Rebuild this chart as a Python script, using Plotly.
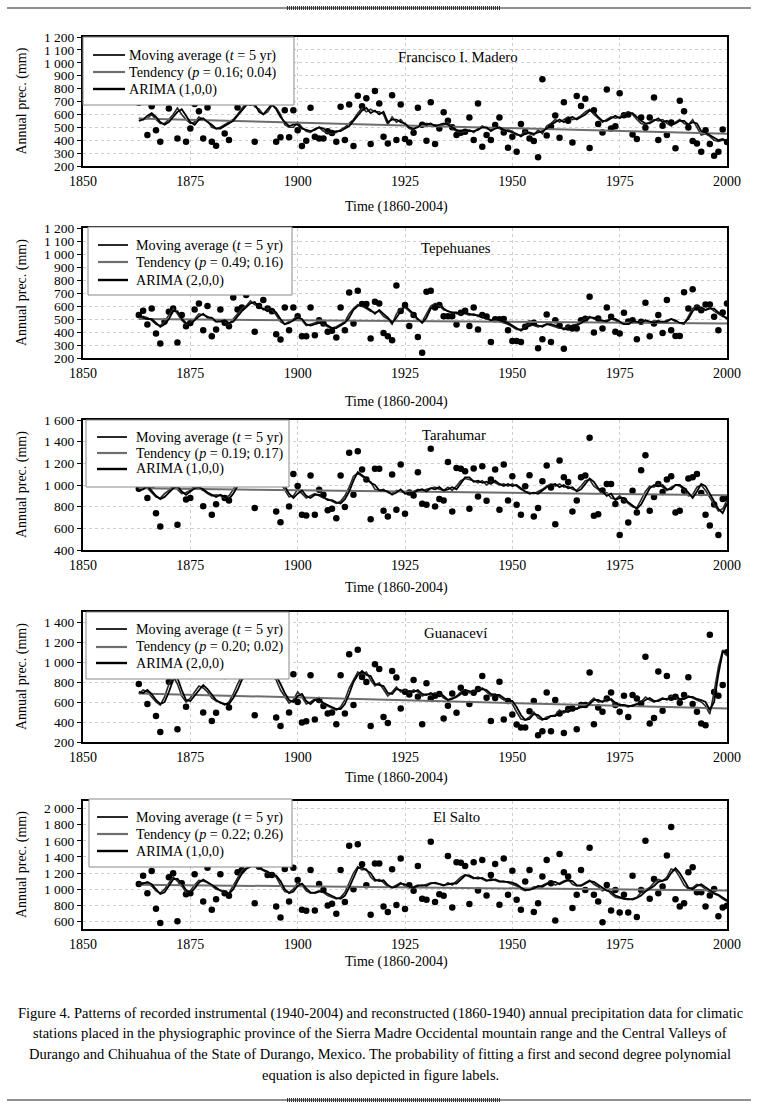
import plotly.graph_objects as go

W, H = 759, 1120
years = list(range(1863, 2001))

stations = ["Francisco I. Madero", "Tepehuanes", "Tarahumar", "Guanaceví", "El Salto"]
tendency_p = ["0.16; 0.04", "0.49; 0.16", "0.19; 0.17", "0.20; 0.02", "0.22; 0.26"]
arima_order = ["(1,0,0)", "(2,0,0)", "(1,0,0)", "(2,0,0)", "(1,0,0)"]

# ---------------- Francisco I. Madero ----------------
madero_obs = [
    690, 700, 440, 664, 478, 388, 720,
    646, 730, 414, 700, 388, 491, 680, 625, 414, 653,
    388, 357, 720, 452, 401, 760, 653, 760, 720, 690,
    388, 720, 700, 740, 780, 388, 422, 633, 422, 633,
    478, 355, 396, 651, 427, 414, 414, 470, 455, 388,
    659, 401, 677, 355, 744, 664, 726, 370, 782, 685,
    427, 375, 749, 401, 677, 409, 383, 458, 651, 520,
    396, 695, 370, 491, 617, 550, 500, 440, 458, 465,
    576, 401, 685, 349, 440, 401, 517, 576, 460, 342,
    427, 311, 525, 465, 414, 393, 267, 873, 437, 504,
    592, 419, 695, 550, 383, 742, 666, 721, 339, 633,
    525, 460, 793, 491, 509, 764, 594, 599, 445, 409,
    576, 496, 576, 731, 401, 512, 440, 538, 337, 705,
    625, 499, 393, 375, 311, 478, 370, 280, 311, 483,
    386]
madero_ma = [
    570, 560, 570, 600, 560, 530, 530,
    560, 600, 650, 600, 560, 530, 540, 580, 560, 550,
    500, 490, 500, 520, 540, 560, 600, 650, 690, 700,
    660, 640, 600, 620, 670, 650, 600, 520, 500, 500,
    540, 500, 470, 460, 490, 500, 470, 460, 450, 460,
    480, 500, 530, 560, 610, 650, 620, 640, 620, 620,
    600, 520, 580, 540, 560, 520, 490, 480, 510, 520,
    530, 520, 520, 510, 520, 540, 490, 470, 460, 470,
    480, 460, 490, 510, 490, 480, 500, 490, 470, 480,
    470, 440, 440, 470, 450, 440, 480, 450, 510, 530,
    560, 540, 560, 580, 560, 570, 590, 620, 640, 600,
    570, 540, 560, 580, 570, 580, 600, 620, 600, 560,
    530, 520, 540, 560, 550, 560, 530, 510, 540, 560,
    530, 520, 560, 500, 440, 450, 430, 400, 390, 400,
    400]
madero_arima = [
    550, 560, 590, 610, 580, 540, 520,
    540, 580, 620, 640, 590, 540, 520, 560, 570, 540,
    520, 490, 490, 510, 530, 550, 590, 630, 670, 690,
    680, 620, 600, 640, 680, 640, 580, 540, 510, 520,
    520, 490, 480, 470, 480, 500, 490, 470, 460, 470,
    470, 490, 510, 550, 590, 630, 650, 610, 630, 600,
    620, 540, 560, 560, 540, 530, 500, 490, 500, 530,
    520, 530, 510, 520, 530, 520, 500, 480, 470, 480,
    470, 470, 480, 500, 500, 470, 490, 500, 480, 470,
    460, 450, 430, 450, 460, 450, 460, 470, 490, 520,
    540, 560, 540, 570, 580, 560, 580, 600, 630, 620,
    580, 550, 550, 570, 590, 570, 590, 610, 610, 580,
    550, 530, 530, 550, 570, 540, 550, 520, 530, 550,
    550, 520, 540, 530, 470, 460, 440, 420, 400, 410,
    390]
madero_trend = [568, 450]

# ---------------- Tepehuanes ----------------
tepe_obs = [
    530, 563, 458, 581, 388, 311, 480,
    556, 581, 319, 530, 445, 470, 574, 620, 414, 600,
    368, 419, 574, 471, 445, 666, 574, 589, 684, 720,
    401, 600, 646, 581, 560, 383, 342, 589, 414, 589,
    522, 368, 368, 589, 375, 491, 465, 401, 409, 357,
    589, 414, 703, 465, 718, 615, 615, 350, 633, 620,
    393, 368, 337, 757, 561, 607, 447, 530, 362, 241,
    710, 718, 589, 607, 522, 522, 522, 458, 548, 563,
    447, 589, 419, 530, 520, 324, 499, 499, 500, 414,
    331, 331, 324, 440, 465, 471, 275, 344, 535, 324,
    491, 450, 272, 435, 427, 427, 491, 502, 672, 396,
    504, 427, 589, 517, 401, 388, 548, 480, 491, 344,
    478, 625, 368, 465, 530, 393, 646, 414, 370, 370,
    705, 581, 728, 589, 568, 612, 612, 517, 414, 550,
    620]
tepe_ma = [
    510, 520, 510, 490, 460, 450, 480,
    530, 580, 540, 490, 460, 470, 500, 540, 530, 520,
    500, 480, 490, 480, 460, 500, 540, 580, 600, 640,
    610, 600, 570, 580, 570, 530, 480, 460, 480, 500,
    520, 490, 450, 460, 470, 480, 460, 440, 430, 440,
    460, 480, 540, 580, 610, 600, 580, 560, 550, 560,
    520, 500, 460, 540, 580, 590, 560, 530, 490, 480,
    540, 600, 620, 600, 570, 560, 550, 540, 540, 540,
    530, 540, 520, 520, 500, 490, 490, 480, 470, 460,
    440, 420, 420, 440, 460, 450, 440, 450, 460, 450,
    440, 430, 430, 440, 450, 460, 480, 500, 520, 500,
    500, 480, 490, 500, 490, 470, 460, 470, 480, 470,
    480, 490, 470, 480, 490, 470, 490, 500, 480, 470,
    460, 520, 580, 600, 580, 570, 590, 560, 540, 520,
    510]
tepe_arima = [
    530, 510, 500, 500, 470, 440, 460,
    500, 560, 560, 500, 470, 460, 490, 520, 540, 510,
    510, 480, 480, 490, 470, 480, 520, 560, 590, 620,
    630, 590, 580, 560, 580, 550, 500, 460, 470, 490,
    510, 500, 460, 450, 460, 470, 470, 450, 430, 430,
    450, 470, 510, 570, 600, 610, 590, 570, 540, 570,
    540, 510, 470, 510, 560, 600, 570, 540, 500, 470,
    510, 580, 610, 620, 580, 560, 550, 550, 530, 550,
    540, 530, 530, 510, 510, 490, 500, 490, 480, 470,
    450, 430, 410, 430, 450, 460, 450, 440, 460, 460,
    450, 440, 420, 430, 450, 450, 470, 490, 510, 510,
    490, 490, 480, 500, 500, 480, 460, 460, 480, 480,
    470, 490, 480, 470, 480, 480, 480, 500, 490, 470,
    470, 500, 560, 590, 590, 570, 580, 580, 550, 530,
    500]
tepe_trend = [500, 465]

# ---------------- Tarahumar ----------------
tara_obs = [
    966, 1050, 879, 990, 740, 617, 1100,
    1040, 1150, 632, 1050, 867, 879, 1040, 1120, 805, 1080,
    725, 823, 1050, 879, 858, 1100, 1150, 1200, 1050, 1150,
    787, 1250, 1100, 1180, 1050, 756, 657, 1120, 802, 1102,
    991, 725, 719, 1087, 725, 957, 910, 768, 780, 694,
    1087, 796, 1297, 910, 1312, 1142, 1050, 685, 1151, 1151,
    762, 709, 1096, 771, 1189, 734, 930, 904, 1118, 827,
    818, 1334, 802, 870, 858, 1213, 756, 1158, 1149, 1127,
    780, 1152, 895, 1173, 855, 1050, 1142, 771, 1189, 858,
    1080, 818, 725, 988, 1090, 709, 787, 1034, 1180, 978,
    638, 1226, 1071, 1028, 756, 858, 1071, 1087, 1436, 716,
    731, 950, 1009, 1009, 824, 539, 858, 654, 948, 747,
    1136, 1275, 762, 889, 1009, 935, 1050, 1080, 746, 762,
    948, 1059, 1071, 1102, 926, 725, 626, 820, 539, 871,
    880]
tara_ma = [
    960, 980, 970, 930, 890, 880, 920,
    950, 990, 960, 920, 930, 950, 990, 970, 950, 920,
    900, 910, 900, 880, 900, 960, 1020, 1060, 1040, 1060,
    1040, 1050, 1060, 1040, 1060, 1080, 1020, 950, 890, 900,
    960, 920, 880, 900, 920, 900, 880, 870, 850, 830,
    850, 900, 980, 1080, 1110, 1080, 1050, 1030, 960, 950,
    960, 930, 920, 950, 940, 930, 920, 940, 960, 940,
    960, 970, 980, 960, 950, 980, 950, 990, 1040, 1060,
    1050, 1040, 1020, 1040, 1000, 1030, 1020, 1000, 1010, 990,
    1010, 990, 960, 940, 930, 920, 940, 960, 990, 1010,
    990, 1010, 980, 990, 960, 950, 990, 1040, 1050, 990,
    960, 920, 930, 880, 870, 900, 860, 830, 800, 790,
    860, 940, 990, 980, 1010, 980, 950, 980, 1000, 990,
    960, 900, 910, 980, 1000, 950, 880, 820, 760, 780,
    860]
tara_arima = [
    950, 960, 990, 950, 900, 870, 890,
    930, 970, 990, 940, 910, 940, 970, 980, 960, 930,
    910, 890, 910, 890, 870, 920, 990, 1040, 1070, 1040,
    1060, 1030, 1060, 1050, 1040, 1070, 1060, 990, 920, 880,
    920, 950, 900, 880, 910, 910, 890, 860, 860, 840,
    830, 870, 940, 1040, 1120, 1090, 1060, 1020, 1000, 950,
    950, 940, 910, 930, 960, 920, 930, 930, 950, 960,
    940, 970, 960, 980, 950, 960, 980, 960, 1020, 1070,
    1070, 1030, 1040, 1020, 1030, 1010, 1040, 1010, 990, 1010,
    990, 1000, 970, 940, 920, 930, 920, 950, 980, 1000,
    1010, 980, 1000, 970, 980, 940, 960, 1010, 1060, 1030,
    970, 940, 900, 920, 860, 880, 880, 840, 810, 780,
    820, 900, 970, 1000, 990, 1000, 960, 960, 1000, 1000,
    970, 930, 880, 940, 1010, 990, 920, 850, 780, 740,
    830]
tara_trend = [970, 905]

# ---------------- Guanaceví ----------------
guan_obs = [
    780, 900, 579, 1000, 461, 301, 950,
    803, 1100, 327, 900, 552, 900, 950, 1000, 495, 880,
    411, 492, 900, 860, 545, 1000, 1050, 1150, 950, 1100,
    468, 1000, 1050, 900, 1150, 445, 361, 1000, 495, 877,
    600, 394, 408, 867, 425, 620, 560, 485, 495, 378,
    867, 485, 1078, 569, 1122, 850, 800, 361, 978, 931,
    451, 391, 911, 844, 535, 703, 676, 820, 653, 378,
    787, 636, 663, 679, 435, 562, 686, 492, 743, 693,
    579, 693, 730, 860, 643, 411, 640, 803, 425, 609,
    475, 374, 344, 344, 508, 609, 267, 307, 696, 307,
    619, 485, 291, 529, 535, 327, 569, 569, 894, 378,
    545, 502, 636, 696, 569, 502, 663, 451, 669, 636,
    586, 1052, 384, 441, 904, 512, 860, 643, 653, 592,
    669, 847, 579, 502, 384, 368, 1273, 700, 663, 770,
    1098]
guan_ma = [
    680, 720, 700, 650, 600, 570, 650,
    780, 860, 780, 660, 600, 640, 700, 760, 740, 700,
    640, 610, 600, 570, 600, 680, 780, 860, 900, 940,
    900, 880, 860, 840, 860, 820, 720, 650, 590, 620,
    700, 650, 580, 600, 630, 610, 580, 560, 540, 520,
    550, 620, 740, 820, 900, 880, 900, 820, 760, 790,
    720, 660, 700, 750, 700, 720, 690, 720, 700, 660,
    680, 670, 690, 680, 640, 620, 640, 660, 700, 720,
    690, 700, 720, 740, 700, 660, 680, 650, 620, 620,
    580, 500, 430, 420, 450, 500, 440, 420, 450, 460,
    470, 520, 490, 520, 530, 540, 550, 560, 600, 640,
    600, 610, 630, 620, 570, 580, 560, 550, 570, 580,
    600, 650, 620, 600, 620, 640, 620, 660, 650, 620,
    640, 660, 640, 620, 600, 560, 480, 700, 950, 1120,
    1060]
guan_arima = [
    700, 690, 720, 680, 620, 580, 600,
    700, 820, 840, 720, 620, 610, 660, 720, 770, 730,
    670, 620, 590, 580, 580, 640, 720, 820, 880, 920,
    930, 880, 870, 850, 840, 860, 780, 690, 620, 600,
    660, 680, 610, 580, 620, 630, 590, 570, 550, 530,
    530, 580, 680, 800, 870, 910, 870, 860, 780, 770,
    760, 690, 680, 730, 720, 700, 710, 700, 720, 680,
    670, 690, 670, 690, 660, 620, 630, 650, 680, 720,
    710, 690, 710, 730, 720, 680, 670, 670, 640, 610,
    610, 550, 470, 420, 430, 480, 470, 430, 430, 460,
    460, 490, 510, 500, 530, 530, 550, 550, 580, 620,
    620, 600, 620, 630, 590, 570, 570, 560, 560, 580,
    590, 620, 640, 610, 610, 630, 630, 640, 660, 630,
    630, 650, 650, 630, 620, 600, 520, 600, 880, 1100,
    1100]
guan_trend = [686, 535]

# ---------------- El Salto ----------------
salto_obs = [
    1065, 1168, 950, 1226, 756, 579, 1350,
    1148, 1197, 600, 1073, 938, 950, 1185, 1400, 847, 1267,
    744, 876, 1185, 950, 917, 1350, 1209, 1238, 1450, 1320,
    826, 1279, 1500, 1176, 1176, 785, 649, 1250, 847, 1267,
    1115, 744, 732, 1238, 736, 1065, 991, 798, 818, 695,
    1238, 839, 1539, 999, 1559, 1308, 1050, 682, 1320, 1320,
    785, 715, 1246, 802, 1382, 752, 1050, 980, 1288, 880,
    868, 1588, 839, 938, 917, 1411, 773, 1333, 1329, 1288,
    814, 1333, 983, 1362, 921, 1176, 1312, 806, 1382, 929,
    1230, 868, 744, 1094, 1238, 715, 826, 1156, 1362, 1073,
    612, 1436, 1209, 1156, 765, 929, 1238, 991, 1514, 929,
    847, 588, 1053, 736, 991, 711, 929, 711, 1168, 654,
    991, 1600, 880, 1127, 950, 1032, 1419, 1773, 876, 785,
    826, 1209, 1271, 962, 962, 785, 921, 1003, 662, 773,
    793]
salto_ma = [
    1060, 1080, 1070, 1040, 980, 950, 1000,
    1080, 1150, 1100, 1040, 960, 980, 1050, 1110, 1100, 1080,
    1040, 1000, 990, 960, 950, 1050, 1150, 1230, 1260, 1290,
    1280, 1260, 1230, 1200, 1190, 1150, 1050, 970, 960, 1000,
    1080, 1050, 980, 950, 960, 980, 960, 920, 900, 880,
    900, 960, 1080, 1200, 1280, 1240, 1250, 1150, 1100, 1120,
    1080, 1030, 1020, 1050, 1080, 1040, 1020, 1030, 1050, 1040,
    1060, 1080, 1070, 1060, 1040, 1080, 1050, 1100, 1150, 1180,
    1150, 1130, 1150, 1120, 1100, 1130, 1110, 1090, 1100, 1080,
    1070, 1040, 1000, 980, 1000, 1030, 1020, 1050, 1080, 1100,
    1050, 1080, 1100, 1120, 1060, 1040, 1050, 1080, 1110, 1060,
    1030, 980, 1000, 940, 900, 890, 880, 870, 880, 900,
    960, 990, 1020, 1080, 1120, 1100, 1150, 1250, 1230, 1150,
    1050, 1000, 1020, 1060, 1040, 1000, 960, 940, 920, 880,
    850]
salto_arima = [
    1050, 1070, 1090, 1060, 1000, 940, 960,
    1040, 1120, 1130, 1070, 990, 950, 1010, 1080, 1120, 1090,
    1060, 1020, 980, 970, 940, 1000, 1100, 1190, 1250, 1280,
    1290, 1270, 1240, 1220, 1180, 1170, 1100, 1000, 950, 970,
    1040, 1070, 1010, 960, 950, 970, 970, 940, 910, 890,
    880, 920, 1020, 1150, 1260, 1270, 1230, 1200, 1120, 1100,
    1110, 1050, 1020, 1030, 1070, 1060, 1030, 1020, 1040, 1050,
    1040, 1070, 1080, 1060, 1050, 1060, 1070, 1070, 1120, 1170,
    1170, 1140, 1130, 1140, 1110, 1110, 1120, 1100, 1090, 1090,
    1080, 1060, 1020, 990, 990, 1010, 1040, 1030, 1060, 1090,
    1090, 1060, 1090, 1110, 1100, 1050, 1040, 1070, 1100, 1090,
    1050, 1010, 980, 970, 920, 900, 880, 880, 870, 890,
    920, 970, 1000, 1040, 1090, 1110, 1120, 1200, 1260, 1200,
    1100, 1020, 1000, 1040, 1060, 1020, 980, 950, 930, 900,
    860]
salto_trend = [1055, 983]

obs = [madero_obs, tepe_obs, tara_obs, guan_obs, salto_obs]
ma = [madero_ma, tepe_ma, tara_ma, guan_ma, salto_ma]
arima = [madero_arima, tepe_arima, tara_arima, guan_arima, salto_arima]
trend = [madero_trend, tepe_trend, tara_trend, guan_trend, salto_trend]

y_ranges = [[200, 1200], [200, 1200], [400, 1600], [200, 1500], [505, 2095]]
y_ticks = [list(range(200, 1201, 100)), list(range(200, 1201, 100)),
           list(range(400, 1601, 200)), list(range(200, 1401, 200)),
           list(range(600, 2001, 200))]
x_ticks = list(range(1850, 2001, 25))

caption = [
    "Figure 4. Patterns of recorded instrumental (1940-2004) and reconstructed (1860-1940) annual precipitation data for climatic",
    "stations placed in the physiographic province of the Sierra Madre Occidental mountain range and the Central Valleys of",
    "Durango and Chihuahua of the State of Durango, Mexico. The probability of fitting a first and second degree polynomial",
    "equation is also depicted in figure labels.",
]


def fmt(v):
    s = str(v)
    return s if v < 1000 else s[:-3] + " " + s[-3:]


def px(x):
    return x / W


def py(y):
    return 1 - y / H


# layout geometry (pixels)
plot_left, plot_right = 83, 727
panel_px = [(37, 166), (228, 358), (420, 550), (612, 742), (801, 929)]
# legend box: left, right, top, bottom ; line sample x0, x1 ; text x ; entry y offsets
legend_box = [(83, 294, 37, 105), (88, 292, 227, 295), (86, 289, 420, 487),
              (86, 289, 612, 679), (89, 292, 799, 867)]
legend_line_x = [(93, 125), (98, 128), (97, 127), (96, 127), (97, 128)]
legend_text_x = [127, 134, 134, 134, 134]
legend_rows = [(18, 35, 52), (18, 35, 53), (17, 33, 49), (17, 35, 51), (18, 35, 52)]
label_px = [(396, 57), (419, 248), (420, 435), (422, 633), (431, 817)]
xtitle_gap = [41, 44, 38, 36, 33]

FONT = "Liberation Serif"
MA_COLOR, TR_COLOR, AR_COLOR = "#2a2a2a", "#6e6e6e", "#000000"

fig = go.Figure()
layout = dict(
    template="none",
    width=W, height=H, margin=dict(l=0, r=0, t=0, b=0, autoexpand=False),
    paper_bgcolor="white", plot_bgcolor="white", showlegend=False,
    font=dict(family=FONT, color="black", size=14),
    annotations=[], shapes=[], hovermode=False,
)

for i in range(5):
    n = "" if i == 0 else str(i + 1)
    xa, ya = "x" + n, "y" + n
    top, bot = panel_px[i]

    fig.add_trace(go.Scatter(
        x=years, y=obs[i], xaxis=xa, yaxis=ya, mode="markers",
        marker=dict(color="black", size=6.5, line=dict(width=0)), hoverinfo="skip"))
    fig.add_trace(go.Scatter(
        x=years, y=ma[i], xaxis=xa, yaxis=ya, mode="lines",
        line=dict(color=MA_COLOR, width=1.6), name="Moving average"))
    fig.add_trace(go.Scatter(
        x=[years[0], years[-1]], y=trend[i], xaxis=xa, yaxis=ya, mode="lines",
        line=dict(color=TR_COLOR, width=2), name="Tendency"))
    fig.add_trace(go.Scatter(
        x=years, y=arima[i], xaxis=xa, yaxis=ya, mode="lines",
        line=dict(color=AR_COLOR, width=1.8), name="ARIMA"))

    layout["xaxis" + n] = dict(
        domain=[px(plot_left), px(plot_right)], anchor=ya, range=[1850, 2000],
        tickvals=x_ticks, ticktext=[str(t) for t in x_ticks], automargin=False,
        showline=True, linecolor="black", linewidth=2, mirror=True,
        showgrid=True, gridcolor="#cfcfcf", griddash="dot", gridwidth=1,
        zeroline=False, ticks="", ticklabelstandoff=1,
        tickfont=dict(size=14), fixedrange=True)
    layout["yaxis" + n] = dict(
        domain=[py(bot), py(top)], anchor=xa, range=y_ranges[i],
        tickvals=y_ticks[i], ticktext=[fmt(t) for t in y_ticks[i]], automargin=False,
        showline=True, linecolor="black", linewidth=2, mirror=True,
        showgrid=True, gridcolor="#cfcfcf", griddash="dot", gridwidth=1,
        zeroline=False, ticks="outside", ticklen=4, tickcolor="black",
        tickfont=dict(size=13.5), fixedrange=True)

    # legend drawn as box + line samples + text
    bx0, bx1, by0, by1 = legend_box[i]
    layout["shapes"].append(dict(
        type="rect", xref="paper", yref="paper", layer="above",
        x0=px(bx0), x1=px(bx1), y0=py(by1), y1=py(by0),
        fillcolor="white", line=dict(color="#8a8a8a", width=1)))
    entries = [("Moving average (<i>t</i> = 5 yr)", MA_COLOR, 2),
               ("Tendency (<i>p</i> = " + tendency_p[i] + ")", TR_COLOR, 2.2),
               ("ARIMA " + arima_order[i], AR_COLOR, 2.4)]
    lx0, lx1 = legend_line_x[i]
    for (txt, col, wd), off in zip(entries, legend_rows[i]):
        yy = by0 + off
        layout["shapes"].append(dict(
            type="line", xref="paper", yref="paper", layer="above",
            x0=px(lx0), x1=px(lx1), y0=py(yy), y1=py(yy),
            line=dict(color=col, width=wd)))
        layout["annotations"].append(dict(
            x=px(legend_text_x[i]), y=py(yy), xref="paper", yref="paper",
            xanchor="left", yanchor="middle", text=txt, showarrow=False,
            font=dict(size=14.2)))

    sx, sy = label_px[i]
    layout["annotations"].append(dict(
        x=px(sx), y=py(sy), xref="paper", yref="paper", xanchor="left", yanchor="middle",
        text=stations[i], showarrow=False, font=dict(size=14.8)))
    layout["annotations"].append(dict(
        x=px(396), y=py(bot + xtitle_gap[i]), xref="paper", yref="paper",
        xanchor="center", yanchor="middle", text="Time (1860-2004)",
        showarrow=False, font=dict(size=14)))
    layout["annotations"].append(dict(
        x=px(22), y=py((top + bot) / 2), xref="paper", yref="paper",
        xanchor="center", yanchor="middle", text="Annual prec. (mm)", textangle=-90,
        showarrow=False, font=dict(size=14)))

cap_y = [1013, 1033, 1054, 1075]
for line, yy in zip(caption, cap_y):
    layout["annotations"].append(dict(
        x=px(380), y=py(yy), xref="paper", yref="paper", xanchor="center",
        yanchor="middle", text=line, showarrow=False, font=dict(size=14.5)))

for yy in (8, 1100):
    layout["shapes"].append(dict(type="line", xref="paper", yref="paper",
                                 x0=px(7), x1=px(751), y0=py(yy), y1=py(yy),
                                 line=dict(color="#222", width=1.2)))
    layout["shapes"].append(dict(type="line", xref="paper", yref="paper",
                                 x0=px(287), x1=px(500), y0=py(yy), y1=py(yy),
                                 line=dict(color="#333", width=4, dash="1px,1px")))

fig.update_layout(**layout)
# remove the default 8px page margin so the figure sits at the window origin
fig.write_html("out.html", config={"displayModeBar": False},
               post_script="document.body.style.margin='0';")
